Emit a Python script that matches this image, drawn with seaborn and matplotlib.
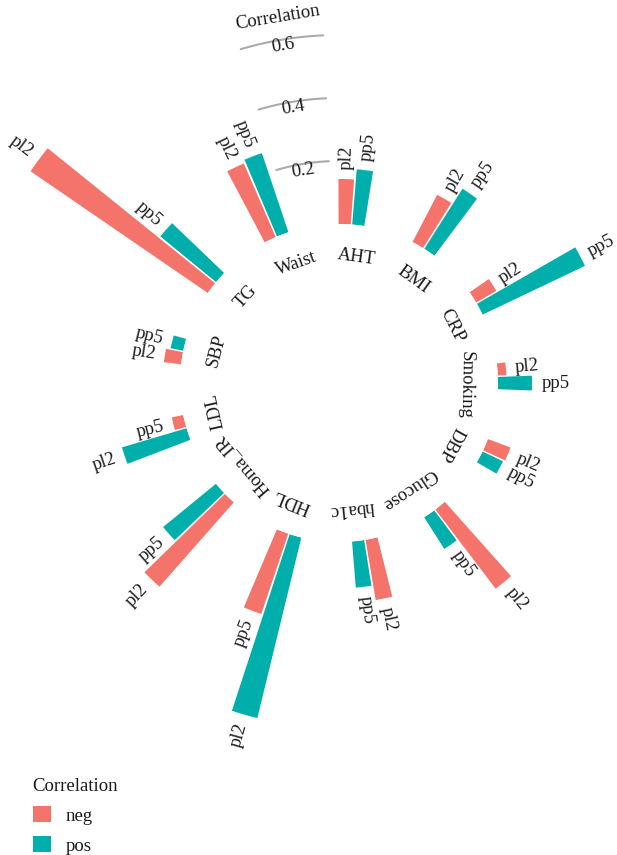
import numpy as np
import pandas as pd
import matplotlib
matplotlib.use("Agg")
import matplotlib.pyplot as plt
from matplotlib.patches import Patch
import seaborn as sns

# Traits, clockwise from the top
traits = ["AHT", "BMI", "CRP", "Smoking", "DBP", "Glucose", "hba1c",
          "HDL", "Homa_IR", "LDL", "SBP", "TG", "Waist"]

# Absolute correlation and its sign for each marker
pl2_value = [0.143, 0.169, 0.074, 0.027, 0.077, 0.316, 0.194,
             0.590, 0.357, 0.214, 0.055, 0.683, 0.255]
pl2_sign = ["neg", "neg", "neg", "neg", "neg", "neg", "neg",
            "pos", "neg", "pos", "neg", "neg", "neg"]
pp5_value = [0.176, 0.226, 0.360, 0.108, 0.072, 0.119, 0.147,
             0.269, 0.217, 0.037, 0.041, 0.229, 0.265]
pp5_sign = ["pos", "pos", "pos", "pos", "pos", "pos", "pos",
            "neg", "pos", "neg", "pos", "pos", "pos"]

markers = ["pl2", "pp5"]
radial_ticks = [0.2, 0.4, 0.6]
palette = {"neg": "#F4736A", "pos": "#00AFAB"}

# ---- layout of the circle -------------------------------------------------
n = len(traits)
step = 360.0 / n
start = 4.5            # angle of the first trait (deg, clockwise from north)
half_gap = 2.45        # angular offset of each marker from the trait centre
label_shift = 3.5      # trait names sit slightly clockwise of their bars
bar_width = np.deg2rad(4.4)

rows = []
for k, trait in enumerate(traits):
    centre = start + k * step
    for j, (m, vals, signs) in enumerate(zip(markers, [pl2_value, pp5_value],
                                             [pl2_sign, pp5_sign])):
        ang = centre + (-half_gap if j == 0 else half_gap)
        rows.append({"trait": trait, "marker": m, "deg": ang,
                     "theta": np.deg2rad(ang), "value": vals[k],
                     "Correlation": signs[k]})
df = pd.DataFrame(rows)

sns.set_theme(style="white")
plt.rcParams["font.family"] = ["Liberation Serif", "DejaVu Serif"]
text_color = "#1a1a1a"
fs = 13.5

W, H, DPI = 617, 855, 100
fig = plt.figure(figsize=(W / DPI, H / DPI), dpi=DPI)

px_per_unit = 315.0
inner_px = 159.0
rmax = 0.8
rorigin = -inner_px / px_per_unit
R_px = (rmax - rorigin) * px_per_unit
cx, cy = 339.0, 383.0
ax = fig.add_axes([(cx - R_px) / W, (H - cy - R_px) / H,
                   2 * R_px / W, 2 * R_px / H], projection="polar")
ax.set_theta_zero_location("N")
ax.set_theta_direction(-1)

sns.barplot(data=df, x="theta", y="value", hue="Correlation",
            palette=palette, saturation=1, native_scale=True, orient="x",
            width=bar_width / df["theta"].sort_values().diff().min(),
            errorbar=None, legend=False, linewidth=0, ax=ax)

ax.set_xlim(0, 2 * np.pi)
ax.set_ylim(0, rmax)
ax.set_rorigin(rorigin)
ax.set_xlabel("")
ax.set_ylabel("")
ax.set_axis_off()

# marker labels at the tip of each bar, reading along the radius
for _, r in df.iterrows():
    d = r["deg"] % 360
    if d < 180:
        rot, ha = 90 - d, "left"
    else:
        rot, ha = 270 - d, "right"
    ax.text(r["theta"], r["value"] + 0.03, r["marker"], rotation=rot,
            rotation_mode="anchor", ha=ha, va="center", fontsize=fs,
            color=text_color)

# trait names on the inner ring, tops facing outwards
for k, trait in enumerate(traits):
    d = start + k * step + label_shift
    ax.text(np.deg2rad(d), -0.102, trait, rotation=-d,
            rotation_mode="anchor", ha="center", va="center",
            fontsize=fs, color=text_color)

# short radial scale drawn as arcs between Waist and AHT
arc = np.deg2rad(np.linspace(-16.4, -2.6, 60))
mid = np.deg2rad(-9.5)
for t in radial_ticks:
    ax.plot(arc, np.full_like(arc, t), color="#ABABAB", lw=1.5,
            solid_capstyle="round")
    ax.text(mid, t - 0.02, f"{t:.1f}", rotation=9.5, rotation_mode="anchor",
            ha="center", va="center", fontsize=fs, color=text_color)
ax.text(mid, 0.672, "Correlation", rotation=9.5, rotation_mode="anchor",
        ha="center", va="center", fontsize=fs, color=text_color)

handles = [Patch(facecolor=palette[c], edgecolor="none") for c in ["neg", "pos"]]
leg = fig.legend(handles, ["neg", "pos"], title="Correlation",
                 loc="upper left", bbox_to_anchor=(0.053, 0.090),
                 frameon=False, fontsize=fs, title_fontsize=fs,
                 handlelength=0.95, handleheight=0.95, handletextpad=0.8,
                 labelspacing=0.6, alignment="left", borderaxespad=0,
                 borderpad=0)
for t in leg.get_texts():
    t.set_color(text_color)
leg.get_title().set_color(text_color)

fig.savefig("out.png", dpi=DPI)
